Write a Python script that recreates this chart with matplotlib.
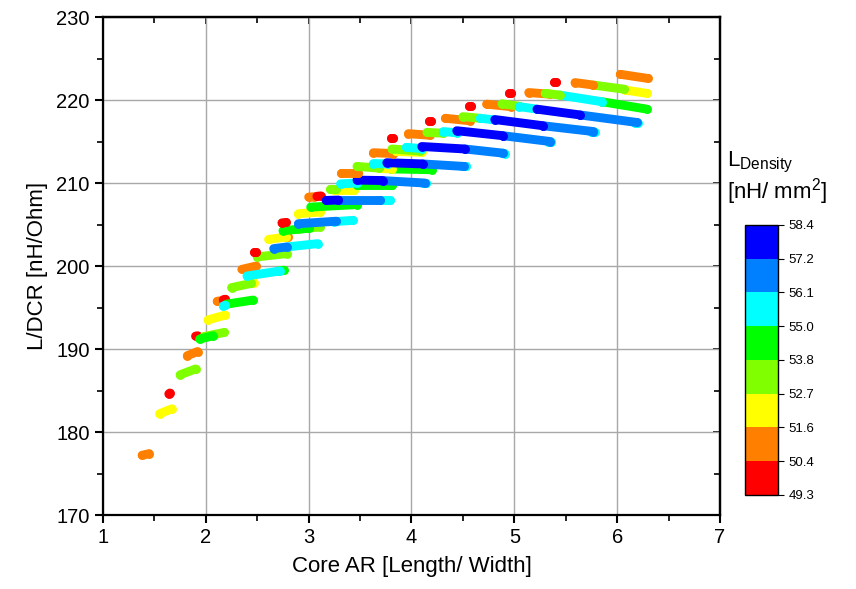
import numpy as np
import matplotlib
matplotlib.use("Agg")
import matplotlib.pyplot as plt
from matplotlib.colors import ListedColormap, BoundaryNorm
from matplotlib.cm import ScalarMappable

plt.rcParams['font.family'] = ['Liberation Sans', 'DejaVu Sans']
plt.rcParams['mathtext.default'] = 'regular'

# colour levels of L_Density [nH/mm^2]
bounds = [49.3, 50.4, 51.6, 52.7, 53.8, 55.0, 56.1, 57.2, 58.4]
level_colors = ['#FF0000', '#FF8000', '#FFFF00', '#80FF00',
                '#00FF00', '#00FFFF', '#0080FF', '#0000FF']

# representative density per bin
R, O, Y, YG, G, C, LB, B = 49.8, 51.0, 52.1, 53.2, 54.4, 55.5, 56.6, 57.8

# each streak of points: start/end of core AR and L/DCR, and its density
x_start = [1.38, 1.55, 1.64, 1.75, 1.82, 1.90, 1.98, 1.94, 2.02, 2.11,
           2.17, 2.20, 2.17, 2.44, 2.25, 2.35, 2.70, 2.40, 2.50, 2.47,
           2.79, 2.66, 2.78, 2.61, 2.90, 2.75, 2.74, 3.25, 2.90, 2.90,
           3.02, 3.00, 3.08, 3.67, 3.29, 3.17, 3.25, 3.21, 3.47, 3.31,
           4.11, 3.71, 3.47, 3.31, 3.80, 3.68, 3.47, 4.49, 4.11, 3.63,
           3.76, 3.63, 3.85, 3.81, 4.88, 4.52, 3.95, 4.10, 3.80, 3.97,
           4.15, 5.33, 4.89, 4.31, 4.44, 4.17, 4.33, 4.50, 5.75, 5.28,
           4.67, 4.81, 4.56, 4.73, 4.88, 6.17, 5.64, 5.05, 5.22, 4.95,
           5.14, 5.85, 5.44, 5.30, 5.39, 6.08, 5.77, 5.59, 6.03]
x_end = [1.45, 1.67, 1.65, 1.90, 1.92, 1.92, 2.18, 2.07, 2.19, 2.13,
         2.19, 2.46, 2.19, 2.47, 2.44, 2.49, 2.76, 2.72, 2.79, 2.49,
         3.09, 2.79, 2.80, 2.78, 3.11, 3.00, 2.78, 3.43, 3.27, 3.11,
         3.47, 3.05, 3.12, 3.79, 3.69, 3.29, 3.44, 3.27, 3.81, 3.47,
         4.14, 4.13, 3.72, 3.48, 4.20, 3.81, 3.68, 4.53, 4.51, 3.77,
         4.11, 3.82, 4.10, 4.08, 4.91, 4.89, 4.10, 4.52, 3.82, 4.18,
         4.31, 5.36, 5.35, 4.44, 4.89, 4.19, 4.57, 4.67, 5.78, 5.77,
         4.81, 5.28, 4.58, 4.97, 5.05, 6.20, 6.19, 5.22, 5.64, 4.97,
         5.35, 6.29, 5.85, 5.44, 5.41, 6.29, 6.07, 5.77, 6.30]
y_start = [177.2, 182.2, 184.6, 186.9, 189.2, 191.55, 191.5, 191.2, 193.5, 195.75,
           195.95, 195.4, 195.2, 197.9, 197.4, 199.6, 199.4, 198.8, 201.1, 201.7,
           202.3, 202.1, 203.5, 203.2, 204.45, 204.25, 205.2, 205.35, 205.1, 206.3,
           207.1, 208.3, 208.4, 207.9, 207.95, 207.9, 209.2, 209.3, 209.8, 209.9,
           210.0, 210.3, 210.35, 211.2, 211.7, 211.75, 212.0, 212.0, 212.3, 212.35,
           212.45, 213.65, 213.8, 214.1, 213.6, 214.1, 214.3, 214.4, 215.4, 215.95,
           216.1, 215.0, 215.7, 216.2, 216.3, 217.5, 217.8, 218.0, 216.2, 216.9,
           217.8, 217.65, 219.3, 219.5, 219.55, 217.25, 218.2, 219.2, 218.9, 220.9,
           220.9, 219.8, 220.6, 220.8, 222.2, 221.2, 221.8, 222.1, 223.1]
y_end = [177.4, 182.8, 184.7, 187.6, 189.7, 191.6, 192.0, 191.6, 194.1, 195.8,
         196.0, 195.9, 195.25, 198.0, 197.9, 200.0, 199.5, 199.4, 201.5, 201.7,
         202.7, 202.3, 203.55, 203.5, 204.7, 204.55, 205.25, 205.5, 205.4, 206.5,
         207.4, 208.35, 208.45, 207.9, 207.95, 207.95, 209.2, 209.3, 209.8, 210.0,
         210.0, 210.0, 210.3, 211.2, 211.6, 211.7, 211.8, 212.0, 212.0, 212.3,
         212.3, 213.55, 213.7, 213.85, 213.55, 213.6, 214.15, 214.1, 215.4, 215.75,
         216.0, 214.95, 215.0, 216.05, 215.7, 217.5, 217.5, 217.8, 216.15, 216.2,
         217.6, 216.9, 219.3, 219.2, 219.25, 217.2, 217.3, 218.9, 218.2, 220.9,
         220.7, 218.9, 219.8, 220.6, 222.2, 220.8, 221.3, 221.8, 222.6]
l_density = [O, Y, R, YG, O, R, YG, G, Y, O,
             R, G, C, Y, YG, O, G, C, YG, R,
             C, LB, O, Y, YG, G, R, C, LB, Y,
             G, O, R, C, LB, B, Y, YG, G, C,
             C, LB, B, O, G, Y, YG, C, LB, C,
             B, O, Y, YG, C, LB, C, B, R, O,
             YG, C, LB, C, B, R, O, YG, C, LB,
             C, B, R, O, YG, C, LB, C, B, R,
             O, G, C, YG, R, Y, YG, O, O]

cmap = ListedColormap(level_colors)
norm = BoundaryNorm(bounds, cmap.N)

fig = plt.figure(figsize=(8.56, 5.89), dpi=100)
ax = fig.add_axes([0.1203, 0.1256, 0.7208, 0.8455])

for x0, x1, y0, y1, d in zip(x_start, x_end, y_start, y_end, l_density):
    ax.plot([x0, x1], [y0, y1], color=cmap(norm(d)), lw=6.4,
            solid_capstyle='round', marker='o', ms=6.4, mew=0, zorder=3)

ax.set_xlim(1, 7)
ax.set_ylim(170, 230)
ax.set_xticks(np.arange(1, 8, 1))
ax.set_yticks(np.arange(170, 231, 10))
ax.set_xticks(np.arange(1.5, 7, 1), minor=True)
ax.set_yticks(np.arange(175, 230, 10), minor=True)
ax.grid(True, which='major', color='#a8a8a8', lw=1.0, zorder=0)
ax.set_axisbelow(True)
ax.tick_params(axis='both', which='major', labelsize=14.5, direction='out',
               length=6, width=1.5)
ax.tick_params(axis='both', which='minor', direction='out', length=4, width=1.2)
for s in ax.spines.values():
    s.set_linewidth(1.6)

# inward ticks on the top and right frame
top = ax.secondary_xaxis('top')
top.set_xticks(np.arange(1, 8, 1))
top.set_xticks(np.arange(1.5, 7, 1), minor=True)
top.tick_params(which='both', direction='in', labeltop=False, width=1.2)
top.tick_params(which='major', length=5)
top.tick_params(which='minor', length=4)
right = ax.secondary_yaxis('right')
right.set_yticks(np.arange(170, 231, 10))
right.set_yticks(np.arange(175, 230, 10), minor=True)
right.tick_params(which='both', direction='in', labelright=False, width=1.2)
right.tick_params(which='major', length=5)
right.tick_params(which='minor', length=4)
top.spines['top'].set_linewidth(1.6)
right.spines['right'].set_linewidth(1.6)

ax.set_xlabel('Core AR [Length/ Width]', fontsize=16, labelpad=6)
ax.set_ylabel('L/DCR [nH/Ohm]', fontsize=16, labelpad=6)

cax = fig.add_axes([0.8703, 0.1596, 0.0386, 0.4584])
cb = fig.colorbar(ScalarMappable(norm=norm, cmap=cmap), cax=cax,
                  ticks=bounds, format='%.1f')
cb.outline.set_linewidth(1.0)
cax.tick_params(labelsize=9.5, length=4, width=0.8)

fig.text(0.849, 1 - 166 / 589, 'L$_{Density}$', fontsize=16, va='baseline')
fig.text(0.849, 1 - 198 / 589, '[nH/ mm$^2$]', fontsize=16, va='baseline')

fig.savefig('out.png', dpi=100)
